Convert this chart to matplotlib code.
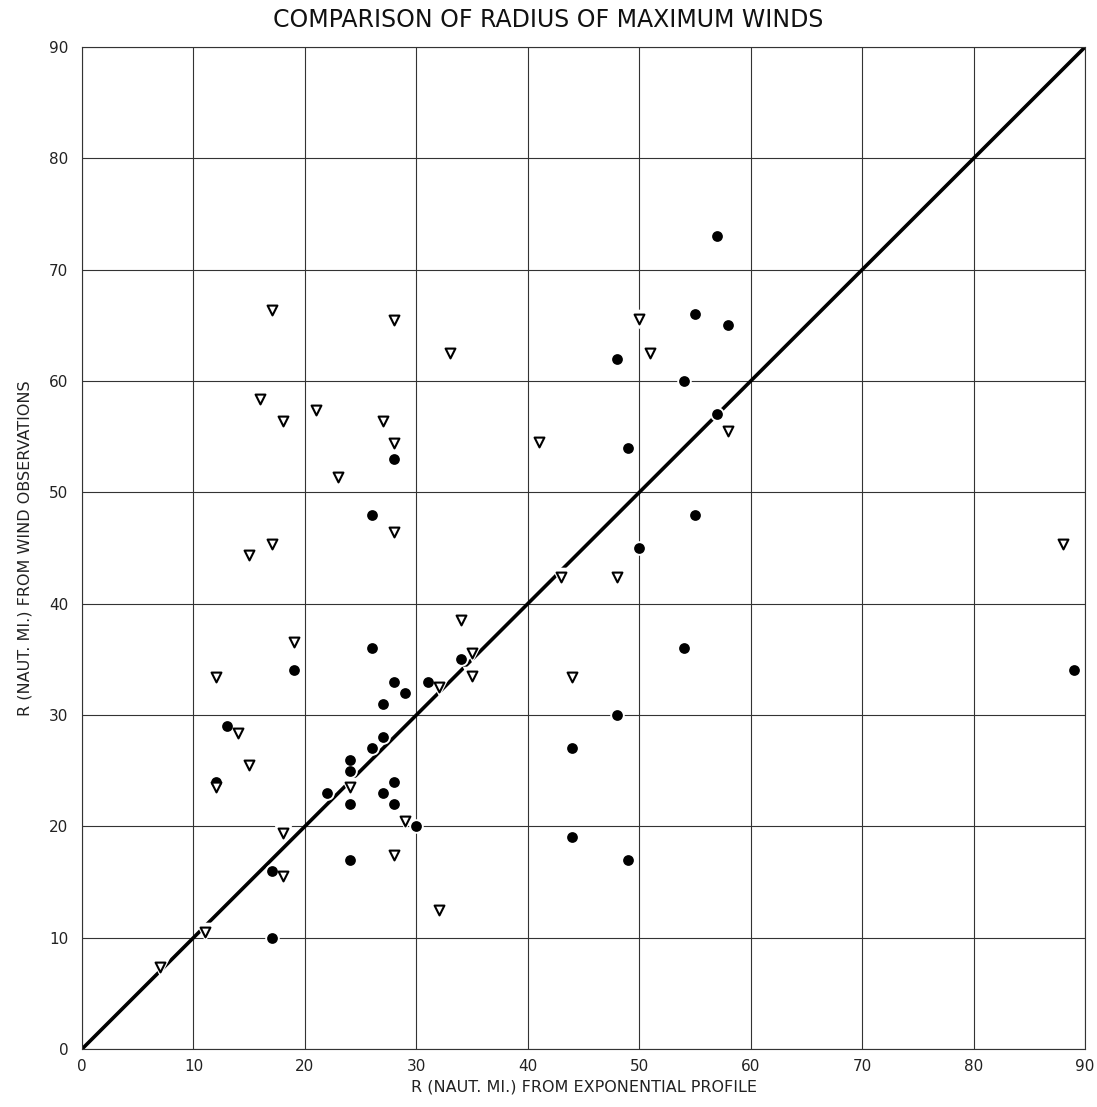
import matplotlib
matplotlib.use("Agg")
import matplotlib.pyplot as plt

# Filled dots: (R from exponential profile, R from wind observations)
dot_x = [57, 55, 58, 48, 54, 28, 49, 57, 26, 55, 50, 54, 26, 34, 19, 89, 28, 31, 29, 27,
         48, 13, 27, 26, 44, 24, 24, 12, 28, 22, 27, 24, 28, 30, 17, 24, 44, 49, 17]
dot_y = [73, 66, 65, 62, 60, 53, 54, 57, 48, 48, 45, 36, 36, 35, 34, 34, 33, 33, 32, 31,
         30, 29, 28, 27, 27, 26, 25, 24, 24, 23, 23, 22, 22, 20, 16, 17, 19, 17, 10]

# Open triangles
tri_x = [17, 28, 33, 50, 51, 16, 21, 18, 27, 28, 23, 41, 58, 15, 17, 28, 43, 48, 88, 19,
         34, 35, 12, 32, 35, 44, 14, 15, 12, 24, 29, 18, 28, 18, 32, 11, 7]
tri_y = [66.4, 65.5, 62.5, 65.6, 62.5, 58.4, 57.4, 56.4, 56.4, 54.4, 51.4, 54.5, 55.5, 44.4,
         45.4, 46.4, 42.4, 42.4, 45.4, 36.6, 38.5, 35.6, 33.4, 32.5, 33.5, 33.4, 28.4, 25.5,
         23.5, 23.5, 20.5, 19.4, 17.4, 15.5, 12.5, 10.5, 7.4]

ticks = [0, 10, 20, 30, 40, 50, 60, 70, 80, 90]
diag = [0, 90]

title = "COMPARISON OF RADIUS OF MAXIMUM WINDS"
xlabel = "R (NAUT. MI.) FROM EXPONENTIAL PROFILE"
ylabel = "R (NAUT. MI.) FROM WIND OBSERVATIONS"

plt.rcParams['font.family'] = ['DejaVu Sans']

fig = plt.figure(figsize=(10.97, 11.07), dpi=100)
ax = fig.add_axes([0.0748, 0.0524, 0.9143, 0.9051])
ax.set_xlim(0, 90)
ax.set_ylim(0, 90)
ax.set_xticks(ticks)
ax.set_yticks(ticks)
ax.grid(True, color='#333333', linewidth=0.8, zorder=0)
ax.set_axisbelow(True)
for s in ax.spines.values():
    s.set_color('#333333')
    s.set_linewidth(0.8)
ax.tick_params(length=0, labelsize=11, colors='#222222')
ax.tick_params(axis='y', pad=10)
ax.tick_params(axis='x', pad=7)

ax.plot(diag, diag, color='black', linewidth=2.6, zorder=2, solid_capstyle='butt')

# white halos to break the line around markers
ax.scatter(dot_x, dot_y, s=110, color='white', zorder=3, linewidths=0)
ax.scatter(tri_x, tri_y, s=200, marker='v', color='white', zorder=3, linewidths=0)

ax.scatter(dot_x, dot_y, s=60, color='black', zorder=4, linewidths=0)
ax.scatter(tri_x, tri_y, s=50, marker='v', facecolor='white', edgecolor='black',
           linewidths=1.5, zorder=4)

fig.text(0.5, 0.982, title, ha='center', va='center', fontsize=17, color='#111111')
ax.set_xlabel(xlabel, fontsize=11.5, color='#222222', labelpad=4)
ax.set_ylabel(ylabel, fontsize=11.5, color='#222222', labelpad=12)

fig.savefig("out.png", dpi=100, facecolor='white')
